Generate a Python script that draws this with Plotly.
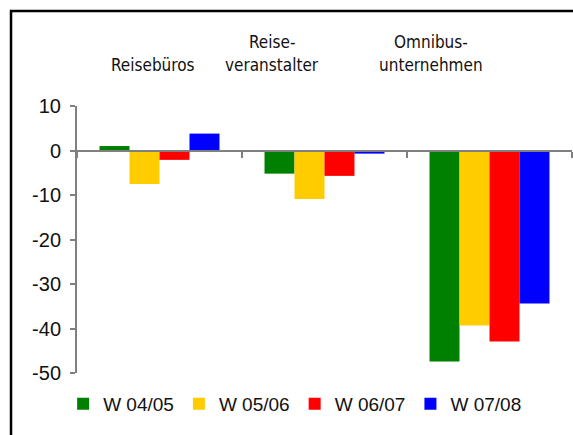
import plotly.graph_objects as go

categories = ["Reisebüros", "Reise-veranstalter", "Omnibus-unternehmen"]
label_line1 = ["", "Reise-", "Omnibus-"]
label_line2 = ["Reisebüros", "veranstalter", "unternehmen"]
series_names = ["W 04/05", "W 05/06", "W 06/07", "W 07/08"]
series_values = [
    [1.0, -5.2, -47.4],
    [-7.5, -10.9, -39.3],
    [-2.1, -5.7, -42.9],
    [3.8, -0.7, -34.4],
]
colors = ["#008000", "#FFCC00", "#FF0000", "#0000FF"]
y_ticks = [10, 0, -10, -20, -30, -40, -50]
y_tick_text = ["10", "0", "-10", "-20", "-30", "-40", "-50"]

fig = go.Figure()
for name, vals, col in zip(series_names, series_values, colors):
    fig.add_trace(go.Bar(x=categories, y=vals, name=name, marker=dict(color=col, line=dict(width=0))))

label_x = [0.1535, 0.394, 0.715]
cat_font = dict(family="DejaVu Sans Condensed, Liberation Sans Narrow, Roboto", size=17, color="#111")
anns = []
for lx, l1, l2 in zip(label_x, label_line1, label_line2):
    if l1:
        anns.append(dict(text=l1, x=lx, y=1.24, xref="paper", yref="paper", showarrow=False,
                         xanchor="center", yanchor="middle", font=cat_font))
    anns.append(dict(text=l2, x=lx, y=1.153, xref="paper", yref="paper", showarrow=False,
                     xanchor="center", yanchor="middle", font=cat_font))

fig.update_layout(
    width=573, height=435,
    margin=dict(l=77, r=1, t=106, b=62, autoexpand=False),
    paper_bgcolor="white", plot_bgcolor="white",
    barmode="group", bargap=0.273, bargroupgap=0,
    font=dict(family="Liberation Sans", size=20, color="#111"),
    showlegend=True,
    legend=dict(orientation="h", x=-0.028, y=-0.116, xanchor="left", yanchor="middle",
                font=dict(size=19), itemwidth=30, traceorder="normal"),
    xaxis=dict(range=[-0.5, 2.5], showticklabels=False, showline=True, linecolor="#808080",
               linewidth=2, ticks="outside", tickson="boundaries", ticklen=6, tickcolor="#808080",
               tickwidth=2, anchor="free", position=50/60, showgrid=False, zeroline=False),
    yaxis=dict(range=[-50, 10], tickvals=y_ticks, ticktext=y_tick_text, showline=True,
               linecolor="#808080", linewidth=2,
               ticks="outside", ticklen=5, tickcolor="#808080", tickwidth=2, showgrid=False,
               zeroline=False, ticklabelstandoff=5),
    annotations=anns,
    shapes=[dict(type="rect", xref="paper", yref="paper", x0=-0.1333, x1=1.3, y0=-0.6, y1=1.3558,
                 line=dict(color="black", width=2.5), fillcolor="rgba(0,0,0,0)", layer="above")],
)

fig.write_html("out.html", config={"displayModeBar": False},
               post_script="document.body.style.margin='0';")
